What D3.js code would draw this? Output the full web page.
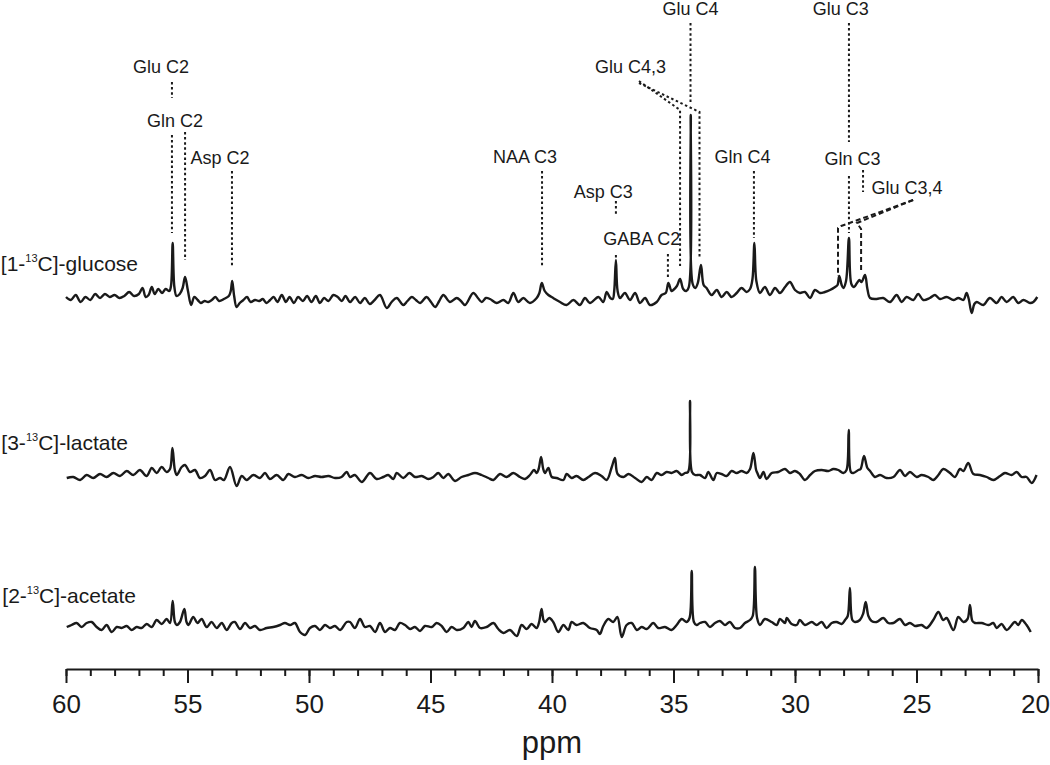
<!DOCTYPE html>
<html>
<head>
<meta charset="utf-8">
<script src="https://cdn.jsdelivr.net/npm/d3@7"></script>
<style>
  body { margin: 0; background: #fff; }
  svg text { font-family: "Liberation Sans", Arial, Helvetica, sans-serif; fill: #1a1a1a; }
</style>
</head>
<body>
<svg id="chart" width="1050" height="765"></svg>
<script>
// spectra: [ppm, intensity]
const glucose = [[60.0,2],[59.8,-1],[59.6,4],[59.4,-3],[59.2,2],[59.0,-1],[58.8,5],[58.6,1],[58.4,5],[58.2,2],[58.0,4],[57.8,1],[57.6,3],[57.4,7],[57.2,3],[57.0,5],[56.85,11],[56.72,2],[56.6,4],[56.47,12],[56.35,5],[56.2,10],[56.05,6],[55.9,10],[55.75,8],[55.68,13],[55.61,56],[55.54,12],[55.45,3],[55.32,5],[55.2,11],[55.1,22],[54.98,8],[54.85,-6],[54.72,2],[54.58,-1],[54.45,-4],[54.3,-2],[54.15,-3],[54.0,-1],[53.85,2],[53.7,-2],[53.5,0],[53.3,3],[53.22,8],[53.16,18],[53.08,3],[52.98,-8],[52.85,-4],[52.7,-1],[52.55,2],[52.4,-3],[52.22,-1],[52.05,-2],[51.9,0],[51.75,-4],[51.6,-1],[51.45,2],[51.3,-3],[51.12,4],[50.95,-3],[50.8,2],[50.62,-4],[50.45,2],[50.25,-2],[50.08,3],[49.9,-3],[49.72,3],[49.55,-4],[49.38,1],[49.2,-2],[49.0,4],[48.82,2],[48.65,-2],[48.5,3],[48.31,-3],[48.1,2],[47.9,-4],[47.7,1],[47.5,-5],[47.3,-1],[47.08,4],[46.8,-9],[46.6,-3],[46.39,1],[46.12,-6],[45.95,-2],[45.77,2],[45.6,-1],[45.43,-4],[45.16,2],[44.98,-3],[44.81,-8],[44.64,-2],[44.47,4],[44.2,-3],[43.92,1],[43.75,-2],[43.58,-6],[43.24,6],[43.05,1],[42.89,-3],[42.72,1],[42.55,0],[42.28,-4],[42.0,-1],[41.8,-4],[41.59,6],[41.39,-3],[41.18,1],[40.91,-4],[40.63,1],[40.52,6],[40.42,16],[40.3,8],[40.15,4],[39.95,1],[39.67,-3],[39.4,-6],[39.12,-1],[38.85,-6],[38.64,1],[38.44,-4],[38.09,2],[37.89,-3],[37.75,7],[37.6,1],[37.5,0],[37.44,8],[37.37,39],[37.3,8],[37.2,1],[37.0,6],[36.79,-1],[36.58,6],[36.38,-4],[36.17,1],[35.97,-6],[35.69,-3],[35.49,4],[35.32,6],[35.21,16],[35.08,8],[35.01,9],[34.86,13],[34.73,20],[34.6,10],[34.48,8],[34.37,12],[34.29,184],[34.21,15],[34.1,11],[34.0,16],[33.87,34],[33.76,14],[33.64,11],[33.43,4],[33.22,9],[33.02,2],[32.81,7],[32.61,2],[32.4,6],[32.2,11],[31.99,7],[31.85,10],[31.75,20],[31.67,56],[31.59,18],[31.44,6],[31.24,12],[31.03,4],[30.82,11],[30.62,6],[30.41,12],[30.21,17],[30.0,9],[29.8,6],[29.59,7],[29.38,1],[29.18,9],[28.97,6],[28.77,7],[28.56,9],[28.35,12],[28.25,14],[28.18,23],[28.08,14],[28.01,11],[27.9,18],[27.78,61],[27.68,15],[27.57,12],[27.45,16],[27.35,19],[27.26,17],[27.12,24],[27.02,10],[26.91,1],[26.64,0],[26.37,1],[26.09,-3],[25.82,4],[25.61,-3],[25.41,2],[25.13,-1],[24.93,5],[24.72,-1],[24.45,1],[24.24,4],[24.03,0],[23.76,2],[23.48,-1],[23.28,1],[23.07,-1],[22.94,6],[22.85,0],[22.73,-14],[22.62,-5],[22.52,-3],[22.25,-6],[21.98,1],[21.7,-4],[21.5,2],[21.29,-3],[21.02,2],[20.81,-4],[20.6,-1],[20.33,-4],[20.19,-3],[20.03,2]];

const lactate = [[59.97,0],[59.7,1],[59.42,-2],[59.15,3],[58.88,0],[58.6,4],[58.33,1],[58.05,5],[57.78,2],[57.5,7],[57.23,3],[56.96,8],[56.68,2],[56.47,10],[56.27,5],[56.06,11],[55.86,6],[55.72,9],[55.62,30],[55.52,8],[55.44,3],[55.24,11],[55.1,13],[54.9,6],[54.69,8],[54.49,0],[54.28,2],[54.07,8],[53.87,-2],[53.66,0],[53.5,-2],[53.25,11],[52.98,-8],[52.77,2],[52.57,-2],[52.29,3],[52.02,0],[51.81,5],[51.61,-1],[51.33,3],[51.06,-2],[50.85,4],[50.58,1],[50.3,3],[50.03,0],[49.75,2],[49.48,1],[49.2,2],[48.93,0],[48.66,1],[48.45,6],[48.31,1],[48.11,3],[47.83,-4],[47.49,5],[47.22,-1],[46.94,1],[46.74,3],[46.53,-1],[46.39,5],[46.12,0],[45.87,5],[45.64,1],[45.36,2],[45.09,-1],[44.88,1],[44.68,5],[44.47,0],[44.27,4],[43.99,-3],[43.72,1],[43.44,3],[43.17,5],[42.9,3],[42.62,0],[42.41,-2],[42.14,4],[41.87,1],[41.59,5],[41.32,1],[41.11,-1],[40.91,3],[40.74,8],[40.63,5],[40.55,9],[40.45,21],[40.36,9],[40.29,5],[40.15,10],[40.01,1],[39.81,0],[39.53,-2],[39.4,4],[39.19,0],[38.99,2],[38.71,-2],[38.5,1],[38.23,5],[37.96,2],[37.75,-2],[37.54,11],[37.41,20],[37.3,4],[37.06,1],[36.85,4],[36.58,0],[36.31,-4],[36.1,1],[35.9,-2],[35.69,5],[35.49,3],[35.28,6],[35.08,5],[34.87,7],[34.66,3],[34.53,5],[34.4,6],[34.32,77],[34.24,6],[34.11,3],[33.91,3],[33.7,0],[33.57,6],[33.36,-2],[33.22,5],[33.02,4],[32.81,2],[32.61,7],[32.4,5],[32.2,7],[31.99,5],[31.85,9],[31.71,25],[31.6,8],[31.55,5],[31.44,0],[31.3,6],[31.17,-1],[30.96,5],[30.69,6],[30.41,9],[30.21,5],[30.0,7],[29.8,4],[29.59,-2],[29.38,3],[29.18,7],[28.9,8],[28.63,7],[28.42,9],[28.22,8],[28.01,5],[27.88,8],[27.79,48],[27.7,6],[27.6,5],[27.39,8],[27.3,9],[27.16,22],[27.02,10],[26.91,7],[26.71,1],[26.5,3],[26.23,0],[25.95,1],[25.68,8],[25.47,2],[25.27,6],[24.99,1],[24.79,3],[24.51,1],[24.31,-2],[24.1,3],[23.9,9],[23.62,5],[23.42,1],[23.21,9],[23.07,7],[22.87,15],[22.66,4],[22.39,3],[22.11,1],[21.84,-2],[21.56,2],[21.36,5],[21.08,3],[20.88,6],[20.67,1],[20.47,1],[20.26,-5],[20.06,3]];

const acetate = [[59.97,1],[59.77,3],[59.56,5],[59.36,1],[59.15,5],[58.94,6],[58.74,1],[58.53,-2],[58.33,3],[58.12,-4],[57.91,1],[57.71,0],[57.5,2],[57.3,-2],[57.09,1],[56.89,0],[56.68,4],[56.47,1],[56.27,8],[56.06,4],[55.86,9],[55.72,5],[55.61,27],[55.52,6],[55.44,3],[55.31,6],[55.13,19],[55.04,6],[54.96,3],[54.76,11],[54.59,5],[54.42,9],[54.21,1],[54.01,6],[53.8,0],[53.59,5],[53.39,-2],[53.18,5],[53.05,6],[52.84,-1],[52.63,5],[52.43,0],[52.22,2],[52.02,-2],[51.74,0],[51.47,1],[51.19,3],[50.99,5],[50.78,3],[50.58,5],[50.37,-4],[50.16,-7],[49.96,0],[49.75,2],[49.55,-2],[49.34,3],[49.14,0],[48.93,2],[48.72,-2],[48.45,6],[48.31,6],[48.11,0],[47.9,9],[47.7,1],[47.49,2],[47.28,-4],[47.08,5],[46.87,-4],[46.67,0],[46.46,-2],[46.26,5],[46.05,3],[45.84,-1],[45.64,1],[45.43,-3],[45.23,2],[44.95,1],[44.75,5],[44.54,2],[44.34,-4],[44.13,1],[43.92,-2],[43.65,0],[43.44,6],[43.31,1],[43.17,7],[42.96,0],[42.69,1],[42.41,5],[42.21,-1],[42.0,-5],[41.73,-2],[41.45,-8],[41.25,3],[41.04,-1],[40.84,4],[40.63,0],[40.53,6],[40.43,19],[40.35,8],[40.29,6],[40.11,10],[39.95,6],[39.74,-4],[39.53,3],[39.33,-2],[39.19,6],[38.99,3],[38.71,5],[38.44,0],[38.16,-2],[38.03,-6],[37.89,2],[37.68,9],[37.48,6],[37.31,11],[37.13,-9],[36.93,3],[36.72,5],[36.51,-2],[36.31,1],[36.1,-1],[35.83,5],[35.63,0],[35.35,1],[35.08,-2],[34.87,3],[34.66,9],[34.46,6],[34.34,10],[34.25,57],[34.16,6],[34.05,3],[33.91,5],[33.7,6],[33.5,1],[33.29,5],[33.09,7],[32.88,3],[32.68,6],[32.47,0],[32.26,0],[32.06,5],[31.85,8],[31.74,12],[31.65,61],[31.56,10],[31.44,3],[31.24,9],[30.96,6],[30.75,3],[30.62,9],[30.41,5],[30.34,10],[30.14,4],[29.93,3],[29.8,8],[29.59,3],[29.31,6],[29.11,3],[28.9,6],[28.7,0],[28.49,5],[28.29,6],[28.08,4],[27.94,8],[27.83,12],[27.74,40],[27.64,8],[27.53,6],[27.33,8],[27.2,14],[27.09,26],[26.98,12],[26.85,7],[26.64,6],[26.37,10],[26.16,5],[25.95,5],[25.68,9],[25.47,3],[25.27,5],[25.06,2],[24.79,3],[24.58,0],[24.31,8],[24.1,16],[23.9,8],[23.76,10],[23.48,-2],[23.28,11],[23.07,6],[22.9,9],[22.8,23],[22.7,7],[22.59,5],[22.32,5],[22.04,3],[21.84,5],[21.7,0],[21.5,4],[21.29,-2],[20.95,6],[20.81,3],[20.67,8],[20.47,3],[20.3,-4]];

const traceLabels = [["[1-", "13", "C]-glucose"], ["[3-", "13", "C]-lactate"], ["[2-", "13", "C]-acetate"]];
const majorTicks = [60, 55, 50, 45, 40, 35, 30, 25, 20];
const minorTicks = d3.range(20, 61, 1);

// peak labels over the glucose trace: [text, ppm, intensity]
const peakLabels = [
  ["Glu C2", 56.09, 226], ["Gln C2", 55.51, 172], ["Asp C2", 53.66, 135],
  ["NAA C3", 41.11, 136], ["Asp C3", 37.89, 101], ["GABA C2", 36.31, 54],
  ["Glu C4,3", 36.77, 226], ["Glu C4", 34.30, 284], ["Glu C3", 28.12, 284],
  ["Gln C4", 32.16, 136], ["Gln C3", 27.63, 134]
];
const sideLabel = ["Glu C3,4", 26.85, 105];

// dotted marker lines, in [ppm, intensity] over the glucose trace
const dotLines = [
  [[55.64, 217], [55.64, 201]],
  [[55.64, 164], [55.64, 66]],
  [[55.10, 167], [55.10, 39]],
  [[53.17, 128], [53.17, 31]],
  [[40.41, 128], [40.41, 31]],
  [[37.37, 98], [37.37, 84]],
  [[37.37, 44], [37.37, 40]],
  [[35.23, 45], [35.23, 21]],
  [[34.30, 276], [34.30, 196]],
  [[36.42, 218], [34.73, 189], [34.73, 33]],
  [[36.42, 216], [33.93, 187], [33.93, 41]],
  [[27.78, 276], [27.78, 157]],
  [[31.69, 128], [31.69, 61]],
  [[27.78, 123], [27.78, 66]],
  [[27.20, 129], [27.20, 107]]
];
const dashLines = [
  [[25.14, 99], [28.10, 73], [28.23, 71], [28.23, 23]],
  [[25.14, 99], [27.45, 76], [27.28, 70], [27.28, 26]]
];

const svg = d3.select("#chart");
const ink = "#1a1a1a";

const x = d3.scaleLinear().domain([60, 20]).range([66, 1038]);
// one intensity unit per pixel, each trace shifted to its own baseline
const traces = [
  { data: glucose, base: 299, labelX: 138, labelY: 271 },
  { data: lactate, base: 478, labelX: 128, labelY: 450 },
  { data: acetate, base: 628, labelX: 136, labelY: 603 }
];
const yFor = base => d3.scaleLinear().domain([0, 100]).range([base, base - 100]);

traces.forEach((t, i) => {
  const y = yFor(t.base);
  const line = d3.line()
    .x(d => x(d[0]))
    .y(d => y(d[1]))
    .curve(d3.curveCatmullRom.alpha(0.5));

  svg.append("path")
    .datum(t.data)
    .attr("d", line)
    .attr("fill", "none")
    .attr("stroke", ink)
    .attr("stroke-width", 2.4)
    .attr("stroke-linejoin", "round");

  const lab = svg.append("text")
    .attr("x", t.labelX)
    .attr("y", t.labelY)
    .attr("text-anchor", "end")
    .style("font-size", "21px");
  lab.append("tspan").text(traceLabels[i][0]);
  lab.append("tspan").attr("dy", -9).style("font-size", "11px").text(traceLabels[i][1]);
  lab.append("tspan").attr("dy", 9).text(traceLabels[i][2]);
});

// annotations on the glucose spectrum
const yg = yFor(traces[0].base);
const annLine = d3.line().x(d => x(d[0])).y(d => yg(d[1]));

svg.append("g").selectAll("path")
  .data(dotLines)
  .join("path")
  .attr("d", annLine)
  .attr("fill", "none")
  .attr("stroke", ink)
  .attr("stroke-width", 2)
  .attr("stroke-dasharray", "2.5,2.6");

svg.append("g").selectAll("path")
  .data(dashLines)
  .join("path")
  .attr("d", annLine)
  .attr("fill", "none")
  .attr("stroke", ink)
  .attr("stroke-width", 2)
  .attr("stroke-dasharray", "5,3");

svg.append("g").selectAll("text")
  .data(peakLabels)
  .join("text")
  .attr("x", d => x(d[1]))
  .attr("y", d => yg(d[2]))
  .attr("text-anchor", "middle")
  .style("font-size", "18px")
  .text(d => d[0]);

svg.append("text")
  .attr("x", x(sideLabel[1]))
  .attr("y", yg(sideLabel[2]))
  .style("font-size", "18px")
  .text(sideLabel[0]);

// x axis
const axisY = 669;
const gMinor = svg.append("g")
  .attr("transform", `translate(0,${axisY})`)
  .call(d3.axisBottom(x).tickValues(minorTicks).tickSize(7).tickSizeOuter(0).tickFormat(""));
gMinor.select(".domain").attr("stroke-width", 2);

const gMajor = svg.append("g")
  .attr("transform", `translate(0,${axisY})`)
  .call(d3.axisBottom(x).tickValues(majorTicks).tickSize(14).tickSizeOuter(0).tickPadding(12).tickFormat(d3.format("d")));
gMajor.select(".domain").remove();

svg.selectAll(".tick line").attr("stroke", ink).attr("stroke-width", 2);
svg.selectAll(".domain").attr("stroke", ink);
gMajor.selectAll(".tick text")
  .style("font-size", "26px")
  .style("font-family", "'Liberation Sans', Arial, sans-serif")
  .attr("fill", ink)
  .attr("dx", d => d === 20 ? -3 : 0);

svg.append("text")
  .attr("x", x(40))
  .attr("y", 753)
  .attr("text-anchor", "middle")
  .style("font-size", "31px")
  .text("ppm");
</script>
</body>
</html>
